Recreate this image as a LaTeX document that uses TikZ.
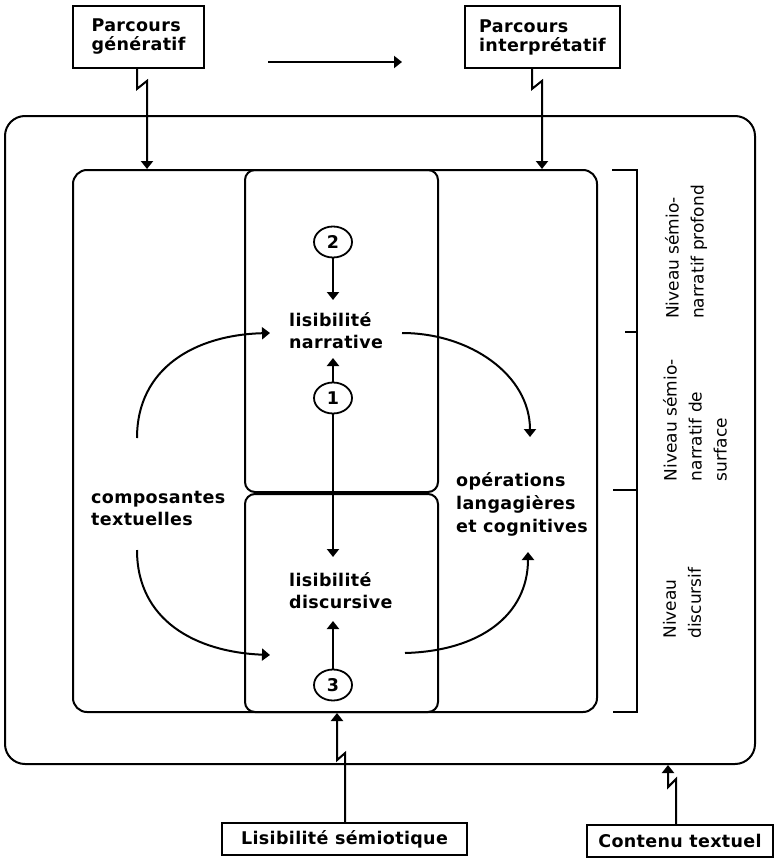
\documentclass[tikz,border=0pt]{standalone}
\usepackage{fontspec}
\setmainfont{DejaVu Sans}
\newfontfamily\bfnt{DejaVu Sans Bold}[LetterSpace=2]
\newfontfamily\rfnt{DejaVu Sans}
\usetikzlibrary{arrows.meta,shapes.geometric}
\begin{document}
\begin{tikzpicture}[x=1pt,y=-1pt,
  every node/.style={font=\bfnt\fontsize{17.5}{22}\selectfont},
  ln/.style={line width=2pt},
  tip/.style={-{Triangle[length=8pt,width=12pt]}},
  frame/.style={draw,line width=2pt,rounded corners=#1,inner sep=0pt},
  lbox/.style={draw,line width=1.8pt,inner sep=0pt,align=left,font=\bfnt\fontsize{17.5}{19}\selectfont},
  txt/.style={inner sep=0pt,align=left,anchor=west},
  ell/.style={draw,ellipse,line width=1.8pt,minimum width=38pt,minimum height=31pt,inner sep=0pt},
  rot/.style={rotate=90,align=left,inner sep=0pt,font=\rfnt\fontsize{17}{25}\selectfont}
]
\fill[white] (0,0) rectangle (775,859);
\useasboundingbox (0,0) rectangle (775,859);

% frames
\node[frame=20pt,minimum width=750pt,minimum height=648pt] (outer) at (380,440) {};
\node[frame=14pt,minimum width=524pt,minimum height=542pt] (inner) at (335,441) {};
\node[frame=10pt,minimum width=193pt,minimum height=322pt] (colU) at (341.5,331) {};
\node[frame=10pt,minimum width=193pt,minimum height=218pt] (colL) at (341.5,603) {};

% top boxes
\node[lbox,minimum width=131pt,minimum height=62pt] (PG) at (138.5,37) {Parcours\\génératif};
\node[lbox,minimum width=155pt,minimum height=62pt] (PI) at (542.5,37) {Parcours\\interprétatif};
\coordinate (h1) at (268,62);
\coordinate (h2) at (402,62);
\draw[ln,tip] (h1) -- (h2);

% bottom boxes
\node[lbox,minimum width=245pt,minimum height=32pt] (LS) at (344.5,839) {Lisibilité sémiotique};
\node[lbox,minimum width=186pt,minimum height=32pt] (CT) at (680,841) {Contenu textuel};

% zigzag connectors
\coordinate (pgA) at ([xshift=-1.5pt]PG.south);
\draw[ln,tip] (pgA) -- ++(0,20) -- ++(10,-8) coordinate (pgB) -- (pgB |- inner.north);
\coordinate (piA) at ([xshift=-10.5pt]PI.south);
\draw[ln,tip] (piA) -- ++(0,20) -- ++(10,-8) coordinate (piB) -- (piB |- inner.north);
\coordinate (lsA) at ([xshift=0.5pt]LS.north);
\draw[ln,tip] (lsA) -- ++(0,-69) -- ++(-8,7) coordinate (lsB) -- (lsB |- inner.south);
\coordinate (ctA) at ([xshift=-4pt]CT.north);
\draw[ln,tip] (ctA) -- ++(0,-45) -- ++(-8,8) coordinate (ctB) -- (ctB |- outer.south);

% texts
\node[txt] (LN) at (289,331) {lisibilité\\narrative};
\node[txt] (LD) at (289,591) {lisibilité\\discursive};
\node[txt] (CX) at (91,508) {composantes\\textuelles};
\node[txt,font=\bfnt\fontsize{17.5}{23}\selectfont] (OP) at (456,504) {opérations\\langagières\\et cognitives};

% circles
\node[ell] (c2) at (333,242) {2};
\node[ell] (c1) at (333,398) {1};
\node[ell] (c3) at (333,685) {3};
\coordinate (t2) at (333,300);
\coordinate (t1u) at (333,358);
\coordinate (t1d) at (333,557);
\coordinate (t3) at (333,621);
\draw[ln,tip] (c2.south) -- (t2);
\draw[ln,tip] (c1.north) -- (t1u);
\draw[ln,tip] (c1.south) -- (t1d);
\draw[ln,tip] (c3.north) -- (t3);

% curved arrows
\coordinate (k1s) at (137,438); \coordinate (k1e) at (270,333);
\draw[ln,tip] (k1s) .. controls (137,368) and (195,335) .. (k1e);
\coordinate (k2s) at (137,550); \coordinate (k2e) at (270,655);
\draw[ln,tip] (k2s) .. controls (137,620) and (195,652) .. (k2e);
\coordinate (k3s) at (402,333); \coordinate (k3e) at (530,437);
\draw[ln,tip] (k3s) .. controls (470,333) and (530,375) .. (k3e);
\coordinate (k4s) at (405,653); \coordinate (k4e) at (528,552);
\draw[ln,tip] (k4s) .. controls (480,651) and (528,615) .. (k4e);

% bracket
\draw[ln] (612,170) -- (637,170) -- (637,712) -- (613,712);
\draw[ln] (625,332) -- (637,332);
\draw[ln] (613,490) -- (637,490);

% level labels
\node[rot] (L1) at (686,252) {Niveau sémio-\\narratif profond};
\node[rot] (L2) at (695,420) {Niveau sémio-\\narratif de\\surface};
\node[rot] (L3) at (682,603) {Niveau\\discursif};
\end{tikzpicture}
\end{document}
